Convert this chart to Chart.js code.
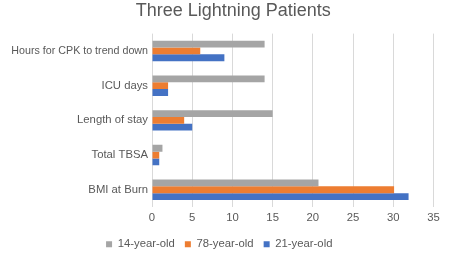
<!DOCTYPE html>
<html>
<head>
<meta charset="utf-8">
<script src="https://cdn.jsdelivr.net/npm/chart.js@4.4.1/dist/chart.umd.min.js"></script>
<style>
  html, body { margin: 0; padding: 0; background: #fff; }
  #wrap { width: 450px; height: 262px; }
</style>
</head>
<body>
<div id="wrap"><canvas id="barChart"></canvas></div>
<script>
// Categories, top to bottom as drawn
const categories = ['Hours for CPK to trend down', 'ICU days', 'Length of stay', 'Total TBSA', 'BMI at Burn'];

// Series values
const age14 = [14, 14, 15, 1.3, 20.7];
const age78 = [6, 2, 4, 0.9, 30.1];
const age21 = [9, 2, 5, 0.9, 31.9];

const xTicks = [0, 5, 10, 15, 20, 25, 30, 35];

const textColor = '#595959';
const fontFamily = "'Liberation Sans', Arial, Helvetica, sans-serif";

// nudge the title a bit to the right, the reference is off centre
const shiftTitle = {
  id: 'shiftTitle',
  afterLayout(chart) {
    const t = chart.titleBlock;
    if (t) { t.left += 14; t.right += 14; }
  }
};

const ctx = document.getElementById('barChart').getContext('2d');
new Chart(ctx, {
  type: 'bar',
  data: {
    labels: categories,
    datasets: [
      { label: '14-year-old', data: age14, backgroundColor: '#a5a5a5' },
      { label: '78-year-old', data: age78, backgroundColor: '#ed7d31' },
      { label: '21-year-old', data: age21, backgroundColor: '#4472c4' }
    ]
  },
  options: {
    indexAxis: 'y',
    responsive: true,
    maintainAspectRatio: false,
    animation: false,
    datasets: {
      bar: { categoryPercentage: 0.59, barPercentage: 1.0 }
    },
    layout: { padding: { left: 5, right: 16.5, top: 0, bottom: 2 } },
    scales: {
      x: {
        min: 0,
        max: 35,
        afterBuildTicks: (scale) => { scale.ticks = xTicks.map(v => ({ value: v })); },
        grid: { color: '#d9d9d9', drawTicks: false },
        border: { display: false },
        ticks: { color: textColor, padding: 4, font: { family: fontFamily, size: 11.3 } }
      },
      y: {
        grid: { display: false, drawTicks: false },
        border: { display: false },
        afterFit: (scale) => { scale.width = 147; },
        ticks: {
          color: textColor,
          padding: 4,
          // the long first label is set a touch narrower so it fits
          font: (c) => ({ family: fontFamily, size: c.index === 0 ? 10.7 : 11.3 })
        }
      }
    },
    plugins: {
      title: {
        display: true,
        text: 'Three Lightning Patients',
        color: textColor,
        font: { family: fontFamily, size: 18, weight: 'normal' },
        padding: { top: 0, bottom: 12 }
      },
      legend: {
        position: 'bottom',
        labels: {
          color: textColor,
          boxWidth: 6,
          boxHeight: 6,
          padding: 10,
          font: { family: fontFamily, size: 11.3 }
        }
      },
      tooltip: { enabled: false }
    }
  },
  plugins: [shiftTitle]
});
</script>
</body>
</html>
